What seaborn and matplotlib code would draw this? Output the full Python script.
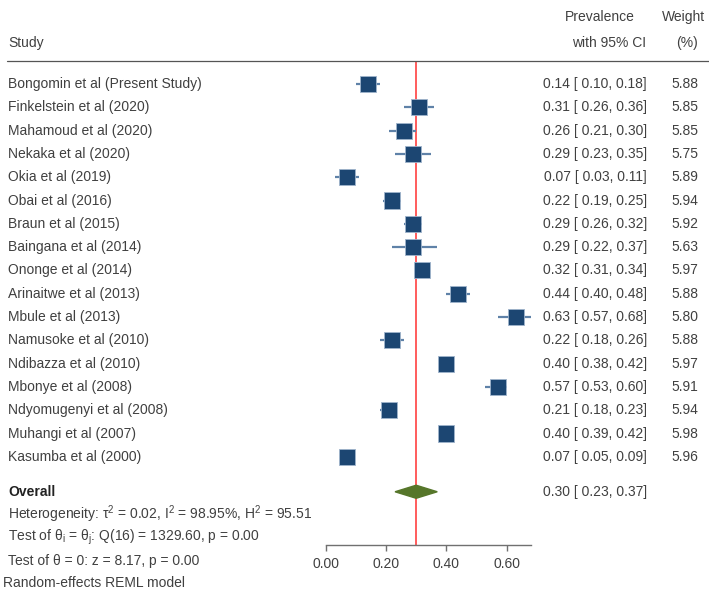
import matplotlib
matplotlib.use("Agg")
import matplotlib.pyplot as plt
import matplotlib.transforms as mtransforms
from matplotlib.lines import Line2D
import seaborn as sns
import pandas as pd

# --- data ---
studies = ["Bongomin et al (Present Study)", "Finkelstein et al (2020)", "Mahamoud et al (2020)",
           "Nekaka et al (2020)", "Okia et al (2019)", "Obai et al (2016)", "Braun et al (2015)",
           "Baingana et al (2014)", "Ononge et al (2014)", "Arinaitwe et al (2013)",
           "Mbule et al (2013)", "Namusoke et al (2010)", "Ndibazza et al (2010)",
           "Mbonye et al (2008)", "Ndyomugenyi et al (2008)", "Muhangi et al (2007)",
           "Kasumba et al (2000)"]
prev = [0.14, 0.31, 0.26, 0.29, 0.07, 0.22, 0.29, 0.29, 0.32, 0.44, 0.63, 0.22, 0.40, 0.57, 0.21, 0.40, 0.07]
lower = [0.10, 0.26, 0.21, 0.23, 0.03, 0.19, 0.26, 0.22, 0.31, 0.40, 0.57, 0.18, 0.38, 0.53, 0.18, 0.39, 0.05]
upper = [0.18, 0.36, 0.30, 0.35, 0.11, 0.25, 0.32, 0.37, 0.34, 0.48, 0.68, 0.26, 0.42, 0.60, 0.23, 0.42, 0.09]
weight = [5.88, 5.85, 5.85, 5.75, 5.89, 5.94, 5.92, 5.63, 5.97, 5.88, 5.80, 5.88, 5.97, 5.91, 5.94, 5.98, 5.96]

overall = 0.30
overall_ci = (0.23, 0.37)
x_ticks = [0.00, 0.20, 0.40, 0.60]

df = pd.DataFrame({"Study": studies, "Prevalence": prev, "Lower": lower,
                   "Upper": upper, "Weight": weight})
df["row"] = range(len(df))

sns.set_style("white")
plt.rcParams["font.family"] = ["Liberation Sans", "DejaVu Sans"]
plt.rcParams["mathtext.fontset"] = "custom"
plt.rcParams["mathtext.rm"] = "Liberation Sans"
plt.rcParams["mathtext.it"] = "Liberation Sans"

txt = "#404040"
fs = 10

W, H = 709, 589
fig = plt.figure(figsize=(W / 100, H / 100), dpi=100)
ax = fig.add_axes([325.7 / W, (H - 545) / H, 0.68 * 301.5 / W, 545 / H])
ax.set_xlim(0, 0.68)
ax.set_ylim(19.785, -3.605)

# reference line at the overall estimate
ax.vlines(overall, -0.95, 19.785, color="#ff5c5c", lw=1.4, zorder=1)

# confidence intervals
ax.hlines(df["row"], df["Lower"], df["Upper"], color="#5f82a8", lw=1.6, zorder=2)

# squares sized by weight
k = 22.4
sns.scatterplot(data=df, x="Prevalence", y="row", size="Weight", marker="s",
                sizes=(k * min(weight), k * max(weight)), size_norm=(min(weight), max(weight)),
                color="#1c4672", edgecolor="#9fb4cc", linewidth=0.6, legend=False,
                zorder=3, ax=ax)

# overall diamond
yo = 17.5
ax.fill([overall_ci[0], overall, overall_ci[1], overall],
        [yo, yo - 0.28, yo, yo + 0.28], color="#56762a", zorder=3, clip_on=False)

# axis styling
for s in ["top", "right", "left"]:
    ax.spines[s].set_visible(False)
ax.spines["bottom"].set_color("#707070")
ax.spines["bottom"].set_linewidth(1.0)
ax.set_xticks(x_ticks)
ax.set_xticklabels([f"{t:.2f}" for t in x_ticks])
ax.tick_params(axis="x", bottom=True, length=4, width=1, color="#707070",
               labelsize=fs, labelcolor=txt, pad=5)
ax.set_yticks([])
ax.set_xlabel("")
ax.set_ylabel("")

trans = mtransforms.blended_transform_factory(fig.transFigure, ax.transData)

def fx(px):
    return px / W

# header
ax.text(fx(8), -1.76, "Study", transform=trans, fontsize=fs, color=txt, va="center", clip_on=False)
ax.text(fx(600), -2.88, "Prevalence", transform=trans, fontsize=fs, color=txt, va="center", ha="center", clip_on=False)
ax.text(fx(646), -1.76, "with 95% CI", transform=trans, fontsize=fs, color=txt, va="center", ha="right", clip_on=False)
ax.text(fx(683), -2.88, "Weight", transform=trans, fontsize=fs, color=txt, va="center", ha="center", clip_on=False)
ax.text(fx(698), -1.76, "(%)", transform=trans, fontsize=fs, color=txt, va="center", ha="right", clip_on=False)
ax.add_line(Line2D([fx(7), 1], [-1.0, -1.0], transform=trans, color="#555555", lw=0.9, clip_on=False))

# study rows
for i, r in df.iterrows():
    ax.text(fx(8), r["row"], r["Study"], transform=trans, fontsize=fs, color=txt, va="center", clip_on=False)
    ax.text(fx(647), r["row"], f"{r['Prevalence']:.2f} [ {r['Lower']:.2f}, {r['Upper']:.2f}]",
            transform=trans, fontsize=fs, color=txt, va="center", ha="right", clip_on=False)
    ax.text(fx(698), r["row"], f"{r['Weight']:.2f}", transform=trans, fontsize=fs, color=txt,
            va="center", ha="right", clip_on=False)

# overall and footer
ax.text(fx(8), yo, "Overall", transform=trans, fontsize=fs, color="#222222", fontweight="bold",
        va="center", clip_on=False)
ax.text(fx(647), yo, f"{overall:.2f} [ {overall_ci[0]:.2f}, {overall_ci[1]:.2f}]", transform=trans,
        fontsize=fs, color=txt, va="center", ha="right", clip_on=False)
ax.text(fx(8), 18.45, r"Heterogeneity: τ$^2$ = 0.02, I$^2$ = 98.95%, H$^2$ = 95.51", transform=trans,
        fontsize=fs, color=txt, va="center", clip_on=False)
ax.text(fx(8), 19.44, r"Test of θ$_\mathrm{i}$ = θ$_\mathrm{j}$: Q(16) = 1329.60, p = 0.00", transform=trans,
        fontsize=fs, color=txt, va="center", clip_on=False)
ax.text(fx(8), 20.47, "Test of θ = 0: z = 8.17, p = 0.00", transform=trans,
        fontsize=fs, color=txt, va="center", clip_on=False)
ax.text(fx(3), 21.42, "Random-effects REML model", transform=trans,
        fontsize=fs, color=txt, va="center", clip_on=False)

fig.savefig("out.png", dpi=100)
